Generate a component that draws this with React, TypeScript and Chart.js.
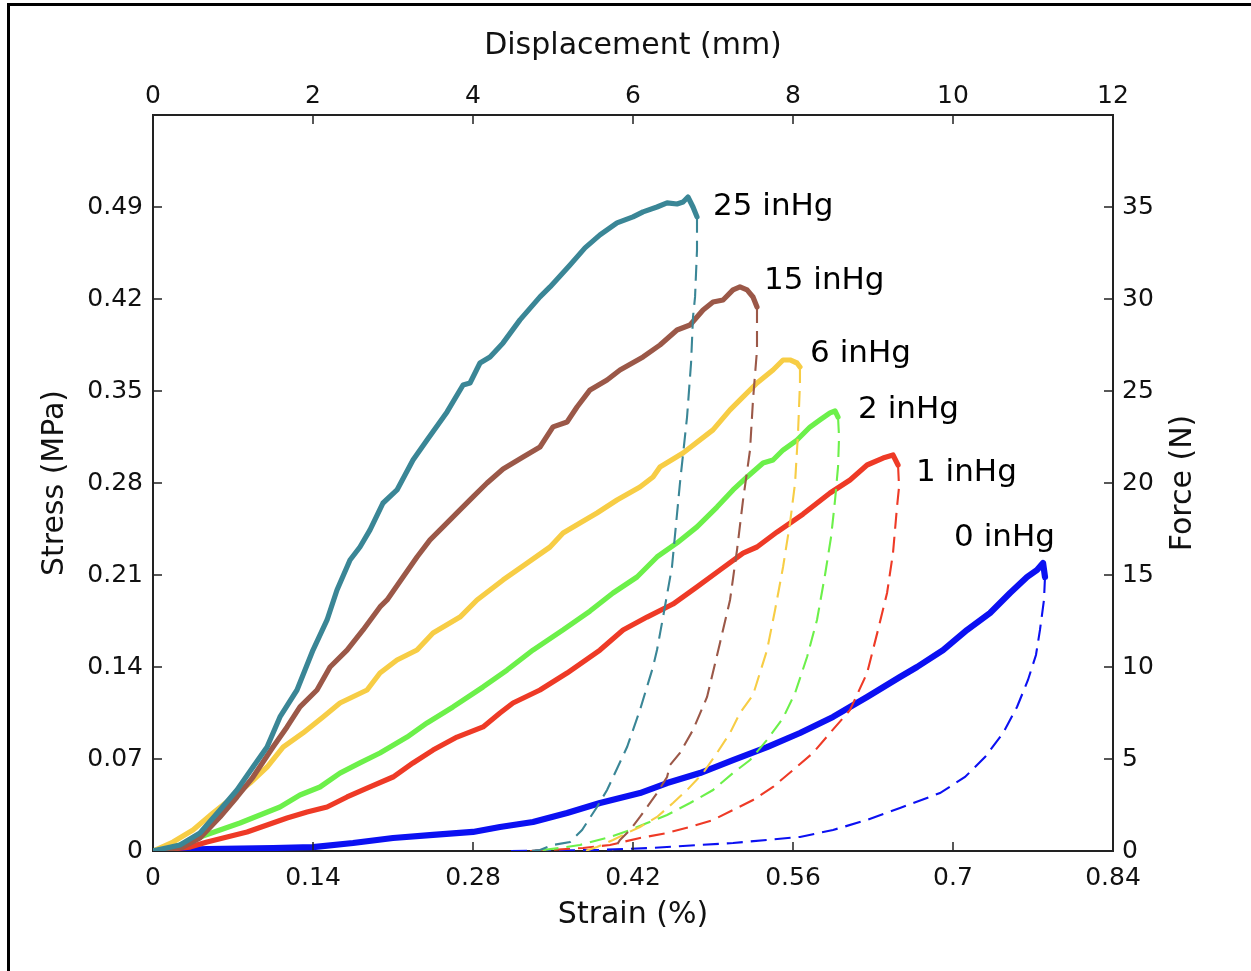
import React, { useEffect, useRef } from "react";
import { Chart, registerables } from "chart.js";

Chart.register(...registerables);

// ---- tick labels ----
const strainTicks = [0, 0.14, 0.28, 0.42, 0.56, 0.7, 0.84];
const stressTicks = [0, 0.07, 0.14, 0.21, 0.28, 0.35, 0.42, 0.49];
const dispTicks = [0, 2, 4, 6, 8, 10, 12];
const forceTicks = [0, 5, 10, 15, 20, 25, 30, 35];

// ---- series names ----
const seriesNames = ["25 inHg", "15 inHg", "6 inHg", "2 inHg", "1 inHg", "0 inHg"];

// ---- loading (solid) curves: [strain %, stress MPa] ----
const load25 = [
  [0, 0], [0.0236, 0.0046], [0.0411, 0.0137], [0.0586, 0.0312], [0.0735, 0.0464], [0.0875, 0.0639],
  [0.0998, 0.0791], [0.1111, 0.102], [0.126, 0.1225], [0.14, 0.1529], [0.1523, 0.1758], [0.161, 0.1986],
  [0.1724, 0.2214], [0.1811, 0.2313], [0.1899, 0.2443], [0.2013, 0.2648], [0.2135, 0.2747], [0.2275, 0.2975],
  [0.2398, 0.3127], [0.2573, 0.3341], [0.2713, 0.3546], [0.2774, 0.3561], [0.2861, 0.3713], [0.2949, 0.3759],
  [0.3063, 0.3866], [0.3211, 0.4041], [0.3386, 0.4216], [0.3474, 0.4292], [0.3649, 0.4459], [0.378, 0.4589],
  [0.3911, 0.4688], [0.406, 0.4779], [0.42, 0.4825], [0.4288, 0.4863], [0.441, 0.49], [0.4498, 0.4931],
  [0.4585, 0.4923], [0.4638, 0.4938], [0.4681, 0.4976], [0.4725, 0.49], [0.476, 0.4825],
];
const load15 = [
  [0, 0], [0.0263, 0.003], [0.0411, 0.0099], [0.0586, 0.0259], [0.0735, 0.0411], [0.0875, 0.0563],
  [0.105, 0.0791], [0.1173, 0.0944], [0.1286, 0.1096], [0.1435, 0.1225], [0.1549, 0.14], [0.1698, 0.1529],
  [0.1838, 0.1682], [0.1986, 0.1857], [0.2048, 0.191], [0.2188, 0.2085], [0.231, 0.2237], [0.2424, 0.2367],
  [0.2538, 0.2466], [0.2686, 0.2595], [0.28, 0.2694], [0.2923, 0.28], [0.3063, 0.2907], [0.3238, 0.2998],
  [0.3386, 0.3074], [0.35, 0.3227], [0.3623, 0.3264], [0.371, 0.3378], [0.3824, 0.3508], [0.3973, 0.3584],
  [0.4086, 0.366], [0.4288, 0.3759], [0.4436, 0.385], [0.4585, 0.3964], [0.4699, 0.4002], [0.4813, 0.4116],
  [0.49, 0.4177], [0.4988, 0.4192], [0.5075, 0.4269], [0.5136, 0.4292], [0.5198, 0.4269], [0.525, 0.4215],
  [0.5285, 0.4139],
];
const load6 = [
  [0, 0], [0.0175, 0.0068], [0.035, 0.016], [0.0525, 0.0289], [0.07, 0.0411], [0.0849, 0.0517],
  [0.0998, 0.0639], [0.1138, 0.0791], [0.1313, 0.0898], [0.1488, 0.102], [0.1636, 0.1126], [0.1873, 0.1225],
  [0.1986, 0.1354], [0.2135, 0.1453], [0.231, 0.1529], [0.245, 0.1659], [0.2686, 0.178], [0.2835, 0.191],
  [0.3063, 0.2062], [0.3273, 0.2191], [0.3474, 0.2313], [0.3588, 0.242], [0.3736, 0.2496], [0.3885, 0.2572],
  [0.406, 0.2671], [0.4261, 0.277], [0.4375, 0.2846], [0.4436, 0.2922], [0.4638, 0.3028], [0.49, 0.3204],
  [0.5049, 0.3356], [0.5163, 0.3455], [0.5285, 0.3561], [0.5425, 0.366], [0.5513, 0.3736], [0.5574, 0.3736],
  [0.5635, 0.3713], [0.5661, 0.3683],
];
const load2 = [
  [0, 0], [0.0236, 0.0046], [0.0411, 0.0107], [0.0586, 0.016], [0.0761, 0.0213], [0.0936, 0.0274],
  [0.1111, 0.0335], [0.1286, 0.0426], [0.1461, 0.0487], [0.1636, 0.0593], [0.1811, 0.067], [0.1986, 0.0746],
  [0.2223, 0.0867], [0.2398, 0.0974], [0.2625, 0.1096], [0.2888, 0.1248], [0.3098, 0.1377], [0.3325, 0.1529],
  [0.3588, 0.1682], [0.3824, 0.1826], [0.4025, 0.1963], [0.4235, 0.2085], [0.441, 0.2237], [0.4585, 0.2344],
  [0.476, 0.2466], [0.4935, 0.2617], [0.5075, 0.2747], [0.5198, 0.2846], [0.5338, 0.2952], [0.5425, 0.2975],
  [0.5513, 0.3051], [0.5635, 0.3127], [0.5749, 0.3226], [0.5836, 0.328], [0.5924, 0.3333], [0.5968, 0.3348],
  [0.5994, 0.3302],
];
const load1 = [
  [0, 0], [0.0324, 0.003], [0.0473, 0.0068], [0.0648, 0.0107], [0.0823, 0.0145], [0.0998, 0.0198],
  [0.1173, 0.0251], [0.1348, 0.0297], [0.1523, 0.0335], [0.1698, 0.0411], [0.1873, 0.0479], [0.21, 0.0563],
  [0.2275, 0.067], [0.245, 0.0768], [0.266, 0.0867], [0.2888, 0.0944], [0.3036, 0.105], [0.315, 0.1126],
  [0.3386, 0.1225], [0.3623, 0.1354], [0.3911, 0.1529], [0.4113, 0.1682], [0.4323, 0.178], [0.455, 0.1879],
  [0.476, 0.2009], [0.4961, 0.2138], [0.5163, 0.2267], [0.5285, 0.2313], [0.546, 0.2427], [0.5688, 0.2564],
  [0.5924, 0.2724], [0.6099, 0.2823], [0.6248, 0.2937], [0.6388, 0.299], [0.6475, 0.3013], [0.6519, 0.2937],
];
const load0 = [
  [0, 0], [0.0473, 0.0015], [0.105, 0.0023], [0.14, 0.003], [0.175, 0.0061], [0.21, 0.0099],
  [0.245, 0.0122], [0.28, 0.0145], [0.3036, 0.0183], [0.3325, 0.0221], [0.3623, 0.0289], [0.3911, 0.0365],
  [0.4261, 0.0441], [0.4498, 0.0517], [0.4786, 0.0593], [0.5075, 0.0692], [0.5373, 0.0791], [0.5661, 0.0898],
  [0.595, 0.102], [0.6248, 0.1172], [0.6536, 0.1324], [0.6685, 0.14], [0.6913, 0.1529], [0.7123, 0.1682],
  [0.7324, 0.1811], [0.7499, 0.1963], [0.7648, 0.2085], [0.7735, 0.2138], [0.7788, 0.2191], [0.7805, 0.2085],
];

// ---- unloading (dashed) curves ----
const unload25 = [
  [0.476, 0.4825], [0.476, 0.4573], [0.4743, 0.4216], [0.4725, 0.4063], [0.4708, 0.3713], [0.4673, 0.3302],
  [0.4611, 0.28], [0.4541, 0.2161], [0.4463, 0.178], [0.441, 0.1529], [0.4375, 0.14], [0.4261, 0.1073],
  [0.4148, 0.0791], [0.3973, 0.0464], [0.3885, 0.0335], [0.3754, 0.016], [0.3649, 0.0068], [0.35, 0.0046],
  [0.3386, 0.0008], [0.3299, 0],
];
const unload15 = [
  [0.5285, 0.4139], [0.5285, 0.3812], [0.525, 0.3432], [0.5224, 0.3051], [0.5163, 0.2671], [0.511, 0.229],
  [0.5049, 0.191], [0.4961, 0.1583], [0.4848, 0.1172], [0.4725, 0.0921], [0.4611, 0.0746], [0.4524, 0.0654],
  [0.4498, 0.0563], [0.441, 0.0441], [0.4323, 0.0335], [0.4261, 0.0259], [0.4174, 0.016], [0.4086, 0.0084],
  [0.4025, 0],
];
const unload6 = [
  [0.5661, 0.3683], [0.5661, 0.3561], [0.5644, 0.3181], [0.5618, 0.28], [0.5574, 0.2496], [0.5513, 0.2161],
  [0.5443, 0.1834], [0.5373, 0.1529], [0.525, 0.1187], [0.5136, 0.105], [0.5049, 0.0898], [0.4935, 0.0746],
  [0.4813, 0.0593], [0.4673, 0.0464], [0.455, 0.0365], [0.441, 0.0259], [0.4261, 0.0183], [0.4148, 0.0137],
  [0.4025, 0.0084], [0.3885, 0.003], [0.378, 0],
];
const unload2 = [
  [0.5994, 0.3302], [0.6003, 0.315], [0.5994, 0.2922], [0.5968, 0.2671], [0.5933, 0.2389], [0.588, 0.21],
  [0.581, 0.1758], [0.5723, 0.1476], [0.5618, 0.1202], [0.5513, 0.1012], [0.5373, 0.0845], [0.5224, 0.0692],
  [0.5075, 0.0593], [0.49, 0.0464], [0.4699, 0.0365], [0.4498, 0.0274], [0.4323, 0.0213], [0.4174, 0.016],
  [0.3999, 0.0107], [0.3736, 0.0046], [0.3561, 0.0023], [0.3343, 0],
];
const unload1 = [
  [0.6519, 0.2937], [0.6528, 0.277], [0.651, 0.2617], [0.6475, 0.2267], [0.6423, 0.1963], [0.6344, 0.1682],
  [0.6248, 0.1354], [0.6099, 0.1073], [0.5924, 0.0898], [0.5775, 0.0746], [0.56, 0.0616], [0.5425, 0.0487],
  [0.525, 0.0388], [0.5075, 0.0312], [0.49, 0.0236], [0.4699, 0.0183], [0.4498, 0.0137], [0.4261, 0.0099],
  [0.3999, 0.0046], [0.3763, 0.0023], [0.3474, 0.0008], [0.3299, 0],
];
const unload0 = [
  [0.7805, 0.2085], [0.7796, 0.191], [0.7761, 0.1682], [0.7726, 0.1491], [0.7656, 0.1301], [0.756, 0.1096],
  [0.7438, 0.0898], [0.728, 0.0715], [0.7105, 0.0563], [0.6886, 0.0441], [0.6536, 0.0327], [0.6248, 0.0236],
  [0.595, 0.016], [0.5661, 0.0107], [0.5373, 0.0084], [0.5075, 0.0061], [0.4786, 0.0046], [0.4349, 0.0023],
  [0.3911, 0.0008], [0.3124, 0],
];

const loads = [load25, load15, load6, load2, load1, load0];
const unloads = [unload25, unload15, unload6, unload2, unload1, unload0];

// ---- styles ----
const colors = ["#3A8696", "#9B5848", "#F7CD45", "#6CF04A", "#EE3A26", "#0B10F2"];
const solidWidths = [5.2, 5.2, 5.2, 5.2, 5.2, 6.2];
// label pixel offsets from each curve's peak
const labelOffsets = [
  [25, 10], [24, -6], [27, -6], [23, -1], [23, 18], [-89, -25],
];

const FONT = "'DejaVu Sans', sans-serif";
const fmt = (v: number) => String(Number(v.toFixed(2)));

const toXY = (arr: number[][]) => arr.map(([x, y]) => ({ x, y }));

const inwardTicks = {
  id: "inwardTicks",
  afterDraw(chart: any) {
    const { ctx, chartArea: a, scales } = chart;
    const L = 9;
    ctx.save();
    ctx.strokeStyle = "#222";
    ctx.lineWidth = 1.5;
    ctx.beginPath();
    const inside = (p: number, lo: number, hi: number) => p > lo + 1 && p < hi - 1;
    for (const v of strainTicks) {
      const p = scales.x.getPixelForValue(v);
      if (!inside(p, a.left, a.right)) continue;
      ctx.moveTo(p, a.bottom); ctx.lineTo(p, a.bottom - L);
    }
    for (const v of dispTicks) {
      const p = scales.x2.getPixelForValue(v);
      if (!inside(p, a.left, a.right)) continue;
      ctx.moveTo(p, a.top); ctx.lineTo(p, a.top + L);
    }
    for (const v of stressTicks) {
      const p = scales.y.getPixelForValue(v);
      if (!inside(p, a.top, a.bottom)) continue;
      ctx.moveTo(a.left, p); ctx.lineTo(a.left + L, p);
    }
    for (const v of forceTicks) {
      const p = scales.y2.getPixelForValue(v);
      if (!inside(p, a.top, a.bottom)) continue;
      ctx.moveTo(a.right, p); ctx.lineTo(a.right - L, p);
    }
    ctx.stroke();
    // right axis title, reading bottom-to-top
    ctx.font = `30px ${FONT}`;
    ctx.fillStyle = "#111";
    ctx.textAlign = "center";
    ctx.textBaseline = "middle";
    ctx.translate(1183, (a.top + a.bottom) / 2);
    ctx.rotate(-Math.PI / 2);
    ctx.fillText("Force (N)", 0, 0);
    ctx.restore();
  },
};

const curveLabels = {
  id: "curveLabels",
  afterDatasetsDraw(chart: any) {
    const { ctx, scales } = chart;
    ctx.save();
    ctx.font = `31px ${FONT}`;
    ctx.fillStyle = "#000";
    ctx.textAlign = "left";
    ctx.textBaseline = "middle";
    loads.forEach((arr, i) => {
      let peak = arr[0];
      for (const p of arr) if (p[1] > peak[1]) peak = p;
      const px = scales.x.getPixelForValue(peak[0]);
      const py = scales.y.getPixelForValue(peak[1]);
      ctx.fillText(seriesNames[i], px + labelOffsets[i][0], py + labelOffsets[i][1]);
    });
    ctx.restore();
  },
};

export default function App() {
  const ref = useRef<HTMLCanvasElement>(null);
  useEffect(() => {
    const datasets: any[] = [];
    loads.forEach((arr, i) => {
      datasets.push({
        label: seriesNames[i],
        data: toXY(arr),
        borderColor: colors[i],
        backgroundColor: colors[i],
        borderWidth: solidWidths[i],
        pointRadius: 0,
        tension: 0,
        fill: false,
        borderJoinStyle: "round",
        borderCapStyle: "round",
        xAxisID: "x",
        yAxisID: "y",
      });
      datasets.push({
        label: seriesNames[i] + " unloading",
        data: toXY(unloads[i]),
        borderColor: colors[i],
        backgroundColor: colors[i],
        borderWidth: 2.1,
        borderDash: [16, 8],
        pointRadius: 0,
        tension: 0,
        fill: false,
        xAxisID: "x",
        yAxisID: "y",
      });
    });

    const tickFont = { family: FONT, size: 25 };
    const titleFont = { family: FONT, size: 30 };
    const setTicks = (arr: number[]) => (scale: any) => {
      scale.ticks = arr.map((v) => ({ value: v }));
    };
    const common = {
      type: "linear",
      grid: { display: false, drawTicks: false },
      border: { display: true, color: "#222", width: 2 },
    };

    const chart = new Chart(ref.current as HTMLCanvasElement, {
      type: "line",
      data: { datasets },
      options: {
        animation: false,
        responsive: false,
        maintainAspectRatio: false,
        devicePixelRatio: 1,
        layout: { padding: 0 },
        plugins: { legend: { display: false }, tooltip: { enabled: false } },
        scales: {
          x: {
            ...common,
            position: "bottom",
            min: 0,
            max: 0.84,
            afterBuildTicks: setTicks(strainTicks),
            afterFit: (s: any) => { s.height = 120; },
            ticks: { font: tickFont, color: "#111", padding: 12, autoSkip: false, maxRotation: 0, callback: (v: any) => fmt(Number(v)) },
            title: { display: true, text: "Strain (%)", font: titleFont, color: "#111", padding: { top: 0, bottom: 38 } },
          },
          x2: {
            ...common,
            position: "top",
            min: 0,
            max: 12,
            afterBuildTicks: setTicks(dispTicks),
            afterFit: (s: any) => { s.height = 115; },
            ticks: { font: tickFont, color: "#111", padding: 4, autoSkip: false, maxRotation: 0, callback: (v: any) => fmt(Number(v)) },
            title: { display: true, text: "Displacement (mm)", font: titleFont, color: "#111", padding: { top: 28, bottom: 0 } },
          },
          y: {
            ...common,
            position: "left",
            min: 0,
            max: 0.56,
            afterBuildTicks: setTicks(stressTicks),
            afterFit: (s: any) => { s.width = 153; },
            ticks: { font: tickFont, color: "#111", padding: 10, autoSkip: false, callback: (v: any) => fmt(Number(v)) },
            title: { display: true, text: "Stress (MPa)", font: titleFont, color: "#111", padding: { top: 37, bottom: 0 } },
          },
          y2: {
            ...common,
            position: "right",
            min: 0,
            max: 40,
            afterBuildTicks: setTicks(forceTicks),
            afterFit: (s: any) => { s.width = 138; },
            ticks: { font: tickFont, color: "#111", padding: 9, autoSkip: false, callback: (v: any) => fmt(Number(v)) },
            title: { display: false, text: "Force (N)" },
          },
        },
      } as any,
      plugins: [inwardTicks, curveLabels],
    } as any);
    return () => chart.destroy();
  }, []);

  return (
    <div style={{ position: "fixed", left: 0, top: 0, width: 1251, height: 971, overflow: "hidden", background: "#fff" }}>
      <canvas ref={ref} width={1251} height={971} style={{ position: "absolute", left: 0, top: 0, width: 1251, height: 971 }} />
      <div style={{ position: "absolute", left: 7, top: 3, width: 1400, height: 1100, borderLeft: "3px solid #000", borderTop: "3px solid #000", pointerEvents: "none" }} />
    </div>
  );
}
